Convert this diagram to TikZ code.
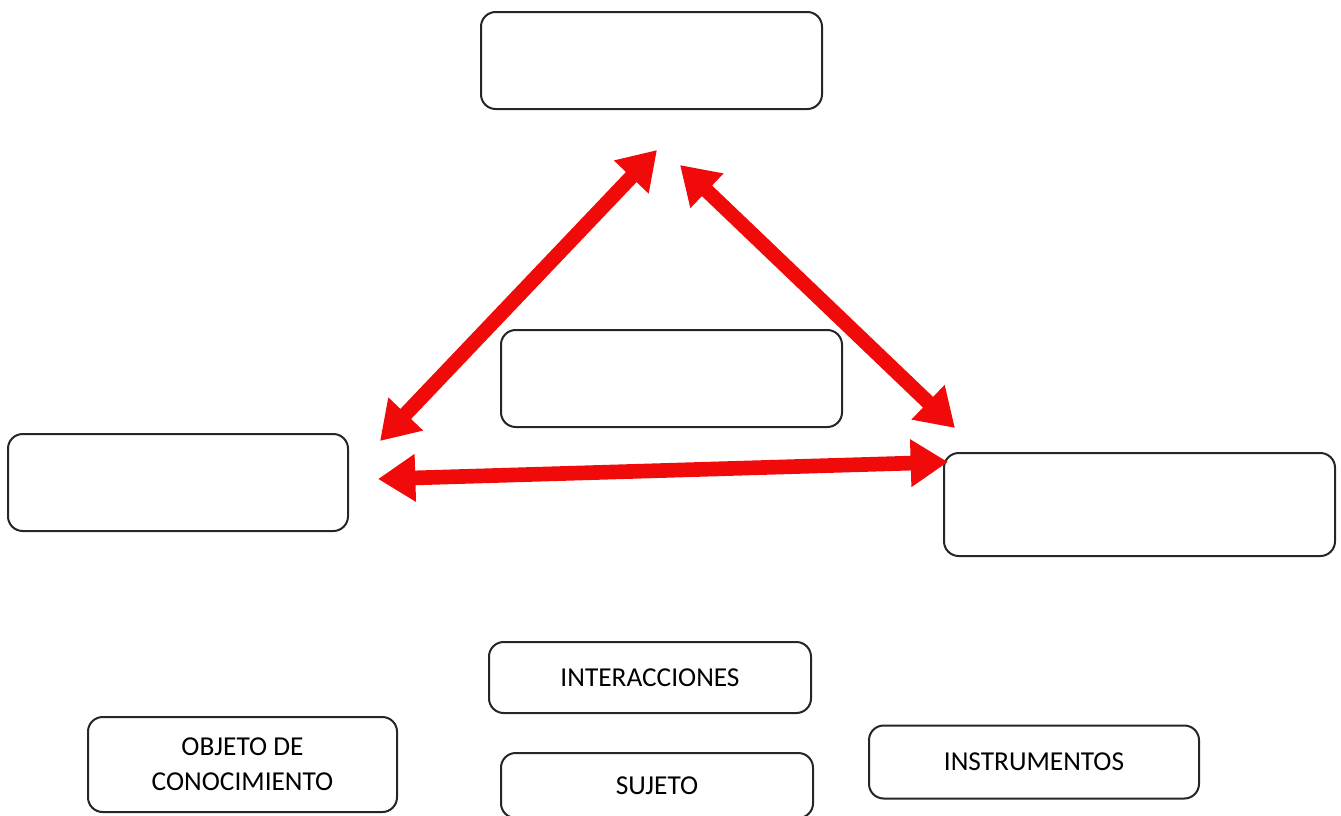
\documentclass[tikz,border=0pt]{standalone}
\usepackage{fontspec}
\setmainfont{Carlito}
\usetikzlibrary{arrows.meta}
\begin{document}
\begin{tikzpicture}[x=0.75pt,y=-0.75pt,
  box/.style={draw=black!85,line width=1.5pt,rounded corners=11pt,fill=white,
    inner sep=0pt,align=center,font=\fontsize{20.5}{26}\selectfont},
  redarrow/.style={draw={rgb,255:red,240;green,10;blue,10},line width=11pt,
    {Triangle[length=28pt,width=34pt]}-{Triangle[length=28pt,width=34pt]}}]
\useasboundingbox (0,0) rectangle (1341,815);
\clip (0,0) rectangle (1341,815);
\node[box,minimum width=255.75pt,minimum height=72.75pt] (top) at (651.5,60.5) {};
\node[box,minimum width=255.75pt,minimum height=72.75pt] (mid) at (671.5,378.5) {};
\node[box,minimum width=255pt,minimum height=72.75pt] (left) at (178,482.5) {};
\node[box,minimum width=293.25pt,minimum height=77.25pt] (right) at (1139.5,504.5) {};
\node[box,minimum width=241.5pt,minimum height=53.25pt] (inter) at (650,677.5) {INTERACCIONES};
\node[box,minimum width=231.75pt,minimum height=71.25pt] (obj) at (242.5,764.5) {OBJETO DE\\CONOCIMIENTO};
\node[box,minimum width=234pt,minimum height=48.75pt] (suj) at (657,785.5) {SUJETO};
\node[box,minimum width=247.5pt,minimum height=54.75pt] (inst) at (1034,762) {INSTRUMENTOS};
\coordinate (a1) at (380,441);
\coordinate (a2) at (657,150);
\coordinate (b1) at (680,165);
\coordinate (b2) at (955,428);
\coordinate (c1) at (378,479);
\coordinate (c2) at (948,462);
\draw[redarrow] (a1) -- (a2);
\draw[redarrow] (b1) -- (b2);
\draw[redarrow] (c1) -- (c2);
\end{tikzpicture}
\end{document}
